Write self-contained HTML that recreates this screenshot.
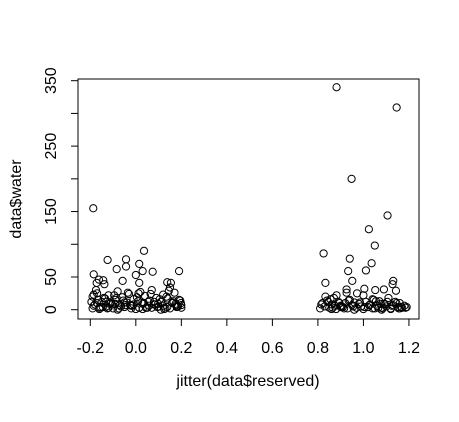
<!DOCTYPE html>
<html><head><meta charset="utf-8"><style>
body{margin:0;background:#fff}
svg text{font-family:"Liberation Sans",Arial,sans-serif;fill:#000}
</style></head><body>
<svg id="chart" width="459" height="417" xmlns="http://www.w3.org/2000/svg">
<rect x="78" y="79" width="341" height="240" fill="none" stroke="#000" stroke-width="1"/>
<g id="xaxis"></g>
<g id="yaxis"></g>
<g id="pts"></g>
<text x="248" y="386" font-size="16" text-anchor="middle">jitter(data$reserved)</text>
<text transform="translate(21,199) rotate(-90)" font-size="16" text-anchor="middle">data$water</text>
</svg>
<script>
const xTicks=[-0.2,0,0.2,0.4,0.6,0.8,1.0,1.2];
const xTickLabels=["-0.2","0.0","0.2","0.4","0.6","0.8","1.0","1.2"];
const yTicks=[0,50,100,150,200,250,300,350];
const yTickLabels=["0","50","","150","","250","","350"];
const xVals=[-0.187,0.882,1.146,0.948,1.106,1.024,1.05,0.825,0.94,1.036,1.011,0.933,0.951,0.833,
0.036,-0.124,-0.043,0.015,-0.084,-0.043,0.074,0.19,0.03,0,0.015,-0.185,-0.058,-0.143,-0.162,-0.172,-0.138,0.138,0.154,
1.131,1.128,1.143,1.09,1.004,0.926,0.926,0.972,1.052,0.833,0.882,
-0.19,-0.18,-0.17,-0.16,-0.15,-0.14,-0.13,-0.12,-0.11,-0.1,-0.09,-0.08,-0.07,-0.06,-0.05,-0.04,-0.03,-0.02,-0.01,0.0,0.01,0.02,0.03,0.04,0.05,0.06,0.07,0.08,0.09,0.1,0.11,0.12,0.13,0.14,0.15,0.16,0.17,0.18,0.19,0.2,
-0.195,-0.175,-0.155,-0.135,-0.115,-0.095,-0.075,-0.055,-0.035,-0.015,0.005,0.025,0.045,0.065,0.085,0.105,0.125,0.145,0.165,0.185,0.198,-0.185,-0.165,-0.125,-0.085,-0.045,0.012,0.055,0.095,0.135,0.175,0.195,
-0.19,-0.16,-0.12,-0.08,-0.02,0.03,0.07,0.11,0.15,0.18,
-0.185,-0.145,-0.105,-0.065,-0.025,0.015,0.058,0.098,0.138,0.178,-0.17,-0.13,-0.09,-0.05,-0.01,0.035,0.08,0.12,0.16,0.2,
0.81,0.82,0.83,0.84,0.85,0.86,0.87,0.88,0.89,0.9,0.91,0.92,0.93,0.94,0.95,0.96,0.97,0.98,0.99,1.0,1.01,1.02,1.03,1.04,1.05,1.06,1.07,1.08,1.09,1.1,1.11,1.12,1.13,1.14,1.15,1.16,1.17,1.18,1.19,
0.815,0.845,0.865,0.875,0.895,0.915,0.935,0.955,0.985,1.005,1.025,1.045,1.065,1.075,1.085,1.105,1.125,1.145,1.165,1.185,0.855,0.905,1.055,1.095,1.155,
0.86,0.9,0.96,1.0,1.04,1.08,1.12,1.16];
const yVals=[155,340,309,200,144,123,98,86,78,71,60,59,44,41,
90,76,77,70,62,66,58,59,59,53,41,54,44,45,46,41,39,42,41,
44,39,29,31,32,31,26,25,30,20,22,
20,8,25,3,12,18,5,22,10,2,15,28,7,19,4,11,24,6,16,1,13,27,9,21,3,14,30,8,18,5,12,23,2,17,34,10,26,4,15,7,
12,30,4,17,9,22,2,14,26,6,19,11,3,24,8,16,1,29,13,5,10,23,15,2,18,7,25,12,4,20,9,14,
2,1,3,0,2,1,3,0,2,5,
6,4,8,5,7,3,6,9,4,7,10,12,9,11,8,10,12,6,11,3,
2,10,5,14,3,8,18,1,12,6,4,10,2,15,7,11,3,9,5,22,12,4,8,16,2,6,13,3,9,5,18,2,7,12,4,10,3,6,4,
8,12,3,6,10,2,14,5,11,4,7,15,3,9,2,12,6,10,4,3,16,5,13,8,2,
1,4,0,1,2,0,1,2];
const X0=90.3,XS=227.6,Y0=309.7,YS=0.6543;
const sx=v=>X0+(v+0.2)*XS, sy=v=>Y0-v*YS;
const NS="http://www.w3.org/2000/svg";
function mk(t,a,p){const e=document.createElementNS(NS,t);for(const k in a)e.setAttribute(k,a[k]);p.appendChild(e);return e;}
const xa=document.getElementById('xaxis'),ya=document.getElementById('yaxis'),pg=document.getElementById('pts');
mk('line',{x1:sx(xTicks[0]),x2:sx(xTicks[xTicks.length-1]),y1:319,y2:319,stroke:'#000'},xa);
xTicks.forEach((t,i)=>{
 const l=mk('line',{x1:sx(t),x2:sx(t),y1:319,y2:326,stroke:'#000'},xa);
 
 
 const tx=mk('text',{x:sx(t),y:353,'font-size':16,'text-anchor':'middle'},xa);
 tx.textContent=xTickLabels[i];
 
 
});
mk('line',{x1:78,x2:78,y1:sy(yTicks[0]),y2:sy(yTicks[yTicks.length-1]),stroke:'#000'},ya);
yTicks.forEach((t,i)=>{
 const l=mk('line',{x1:71,x2:78,y1:sy(t),y2:sy(t),stroke:'#000'},ya);
 
 
 if(yTickLabels[i]){
 const tx=mk('text',{transform:`translate(56,${sy(t)}) rotate(-90)`,'font-size':16,'text-anchor':'middle'},ya);
 tx.textContent=yTickLabels[i];
 
 
 }
});
xVals.forEach((v,i)=>{
 const c=mk('circle',{cx:sx(v),cy:sy(yVals[i]),r:3.6,fill:'none',stroke:'#000','stroke-width':1},pg);
 
 
});
</script>
</body></html>
